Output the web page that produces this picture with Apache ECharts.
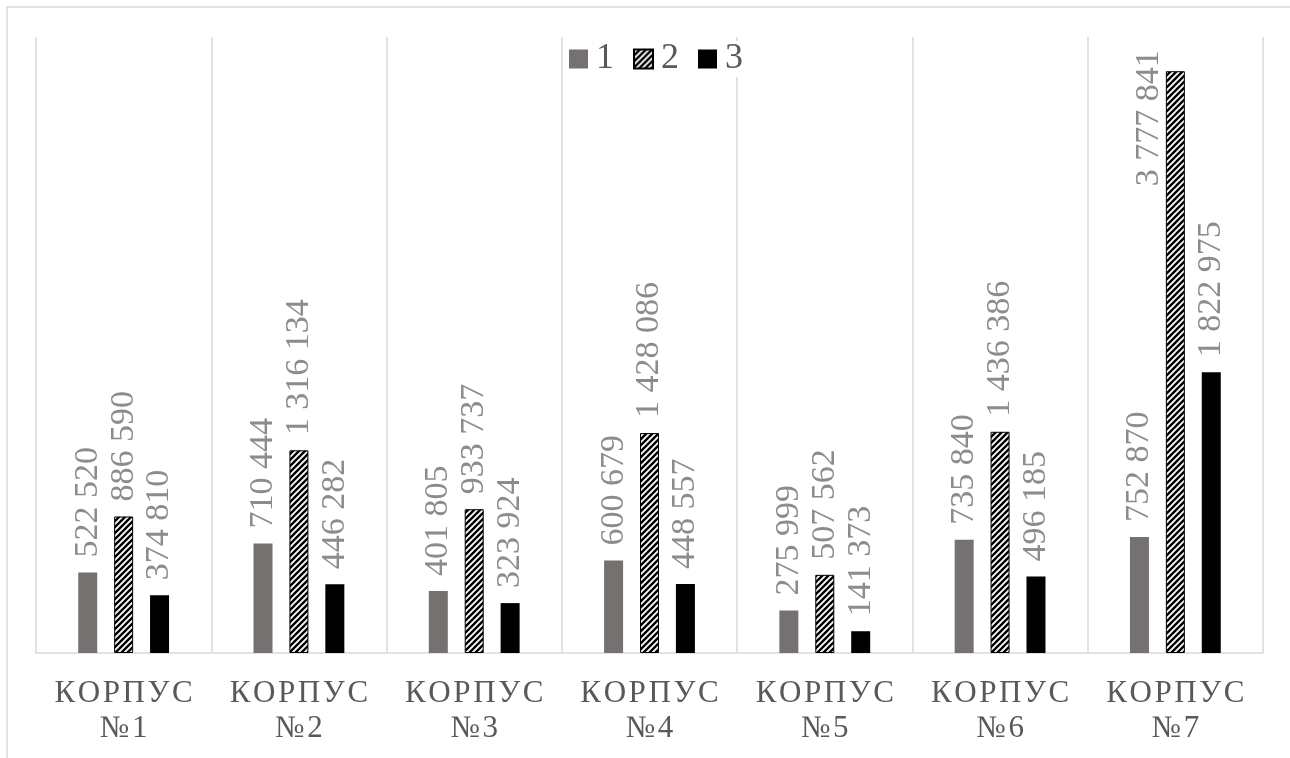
<!DOCTYPE html>
<html>
<head>
<meta charset="utf-8">
<script src="https://cdn.jsdelivr.net/npm/echarts@6/dist/echarts.min.js"></script>
<style>
  html, body { margin: 0; padding: 0; background: #fff; }
  #main { width: 1290px; height: 758px; }
</style>
</head>
<body>
<div id="main"></div>
<script>
const categories = ["КОРПУС №1", "КОРПУС №2", "КОРПУС №3", "КОРПУС №4", "КОРПУС №5", "КОРПУС №6", "КОРПУС №7"];
const seriesNames = ["1", "2", "3"];
const values1 = [522520, 710444, 401805, 600679, 275999, 735840, 752870];
const values2 = [886590, 1316134, 933737, 1428086, 507562, 1436386, 3777841];
const values3 = [374810, 446282, 323924, 448557, 141373, 496185, 1822975];

const chartDom = document.getElementById("main");
const myChart = echarts.init(chartDom);
const serif = '"Liberation Serif", "Times New Roman", serif';
let option;

// diagonal hatch for the second series
const hatch = document.createElement("canvas");
hatch.width = 6;
hatch.height = 6;
const ctx = hatch.getContext("2d");
ctx.fillStyle = "#fff";
ctx.fillRect(0, 0, 6, 6);
ctx.strokeStyle = "#000";
ctx.lineWidth = 2.4;
ctx.beginPath();
ctx.moveTo(-1, 7);
ctx.lineTo(7, -1);
ctx.moveTo(-4, 4);
ctx.lineTo(4, -4);
ctx.moveTo(2, 10);
ctx.lineTo(10, 2);
ctx.stroke();

const fmt = (v) => String(v).replace(/\B(?=(\d{3})+(?!\d))/g, " ");

const valueLabel = {
  show: true,
  position: "top",
  rotate: 90,
  align: "left",
  verticalAlign: "middle",
  distance: 15,
  color: "#8c8c8c",
  fontFamily: serif,
  fontSize: 34,
  formatter: (p) => fmt(p.value),
};

// the tallest label would run past the plot, so it sits beside its bar
const data2 = values2.map((v, i) =>
  i === values2.length - 1
    ? {
        value: v,
        label: { position: [-17, -21], align: "right" },
      }
    : v
);

option = {
  animation: false,
  graphic: [
    {
      type: "rect",
      shape: { x: 7, y: 7, width: 1400, height: 1000 },
      style: { fill: "none", stroke: "#d9d9d9", lineWidth: 1.5 },
      silent: true,
    },
  ],
  legend: {
    data: seriesNames,
    left: 569,
    top: 41,
    padding: 0,
    icon: "rect",
    itemWidth: 19,
    itemHeight: 19,
    itemGap: 19,
    backgroundColor: "#fff",
    textStyle: {
      color: "#595959",
      fontFamily: serif,
      fontSize: 36,
      padding: [0, 0, 0, 3],
    },
  },
  grid: {
    left: 36,
    right: 27,
    top: 37,
    bottom: 105,
  },
  xAxis: {
    type: "category",
    data: categories,
    axisLine: { lineStyle: { color: "#d9d9d9", width: 1.5 } },
    axisTick: { show: false, interval: 0 },
    splitLine: { show: true, interval: 0, lineStyle: { color: "#d9d9d9", width: 1.5 } },
    axisLabel: {
      interval: 0,
      margin: 23,
      color: "#595959",
      fontFamily: serif,
      fontSize: 31,
      lineHeight: 35,
      formatter: (v) => {
        const parts = v.split(" ");
        return parts[0].split("").join("\u200A") + "\n" + parts[1].split("").join("\u200A");
      },
    },
  },
  yAxis: {
    type: "value",
    min: 0,
    max: 4000000,
    show: false,
    splitLine: { show: false },
  },
  series: [
    {
      name: seriesNames[0],
      type: "bar",
      data: values1,
      barWidth: 19,
      barGap: "89%",
      itemStyle: { color: "#767171" },
      label: valueLabel,
    },
    {
      name: seriesNames[1],
      type: "bar",
      data: data2,
      barWidth: 19,
      itemStyle: {
        color: { image: hatch, repeat: "repeat" },
        borderColor: "#000",
        borderWidth: 1,
      },
      label: valueLabel,
    },
    {
      name: seriesNames[2],
      type: "bar",
      data: values3,
      barWidth: 19,
      itemStyle: { color: "#000" },
      label: valueLabel,
    },
  ],
};

option && myChart.setOption(option);
</script>
</body>
</html>
